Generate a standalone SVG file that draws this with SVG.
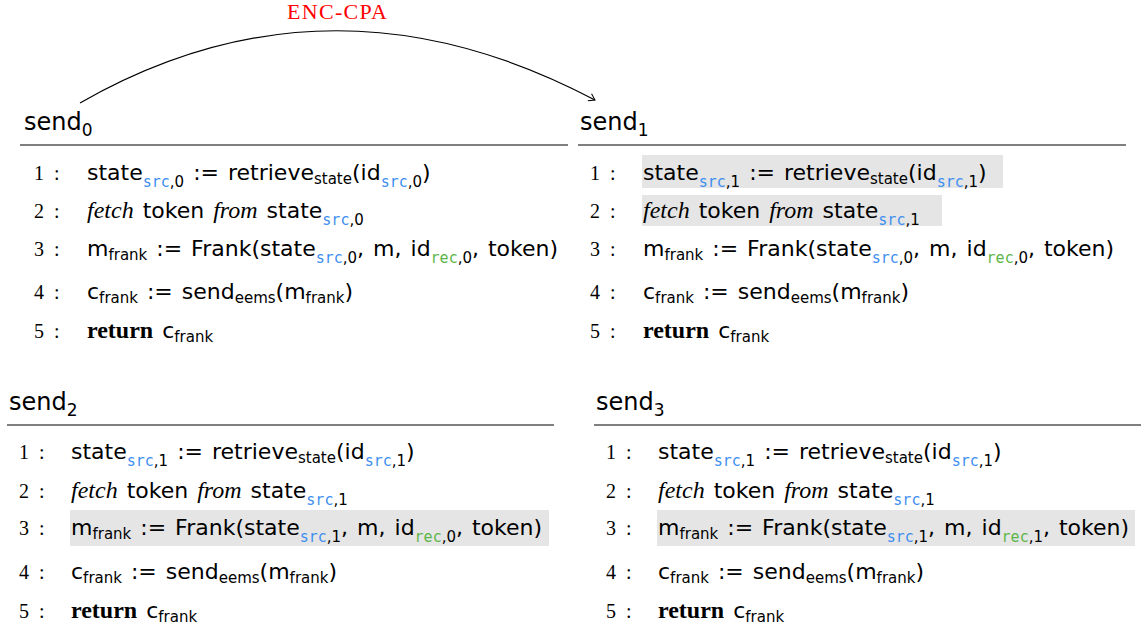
<svg xmlns="http://www.w3.org/2000/svg" width="1145" height="631" viewBox="0 0 1145 631">
<style>
.h{font-family:"DejaVu Sans",sans-serif;font-size:24px;fill:#000}
.hs{font-size:17px}
.t{font-family:"DejaVu Sans",sans-serif;font-size:22px;fill:#000;word-spacing:2px}
.s{font-size:15px}
.src{font-family:"DejaVu Sans Mono",monospace;font-size:15px;fill:#3d8ef0}
.rec{font-family:"DejaVu Sans Mono",monospace;font-size:15px;fill:#5cb548}
.n{font-family:"Liberation Serif",serif;font-size:20px;fill:#000;word-spacing:5px}
.i{font-family:"Liberation Serif",serif;font-style:italic;font-size:24px}
.b{font-family:"Liberation Serif",serif;font-weight:bold;font-size:24px}
.rule{stroke:#000;stroke-width:1.2}
.hl{fill:#e5e5e5}
.lbl{font-family:"Liberation Serif",serif;font-size:22px;fill:#ff0000}
</style>
<defs>
<marker id="arr" markerWidth="10" markerHeight="10" refX="8" refY="5" orient="auto" markerUnits="userSpaceOnUse">
<path d="M2 1 L8 5 L2 9" fill="none" stroke="#000" stroke-width="1"/>
</marker>
</defs>
<g id="connectors">
<path d="M80 103 Q330 -40 595 100" fill="none" stroke="#000" stroke-width="1.2" marker-end="url(#arr)"/>
<text class="lbl" x="337" y="19" text-anchor="middle" textLength="100" lengthAdjust="spacing">ENC-CPA</text>
</g>
<g id="send0">
<text class="h" x="24" y="130">send<tspan class="hs" dy="6">0</tspan></text>
<line class="rule" x1="20" y1="145" x2="568" y2="145"/>
<text class="n" x="34" y="180">1 :</text>
<text class="t" x="87" y="180">state<tspan class="src" dy="7">src</tspan><tspan class="s">,0</tspan><tspan dy="-7"> := retrieve</tspan><tspan class="s" dy="4">state</tspan><tspan dy="-4">(id</tspan><tspan class="src" dy="7">src</tspan><tspan class="s">,0</tspan><tspan dy="-7">)</tspan></text>
<text class="n" x="34" y="218">2 :</text>
<text class="t" x="87" y="218"><tspan class="i">fetch</tspan> token <tspan class="i">from</tspan> state<tspan class="src" dy="7">src</tspan><tspan class="s">,0</tspan></text>
<text class="n" x="34" y="256">3 :</text>
<text class="t" x="87" y="256">m<tspan class="s" dy="4">frank</tspan><tspan dy="-4"> := Frank(state</tspan><tspan class="src" dy="7">src</tspan><tspan class="s">,0</tspan><tspan dy="-7">, m, id</tspan><tspan class="rec" dy="7">rec</tspan><tspan class="s">,0</tspan><tspan dy="-7">, token)</tspan></text>
<text class="n" x="34" y="299">4 :</text>
<text class="t" x="87" y="299">c<tspan class="s" dy="4">frank</tspan><tspan dy="-4"> := send</tspan><tspan class="s" dy="4">eems</tspan><tspan dy="-4">(m</tspan><tspan class="s" dy="4">frank</tspan><tspan dy="-4">)</tspan></text>
<text class="n" x="34" y="338">5 :</text>
<text class="t" x="87" y="338"><tspan class="b">return</tspan> c<tspan class="s" dy="4">frank</tspan></text>
</g>
<g id="send1">
<rect class="hl" x="642" y="155" width="361" height="33"/>
<rect class="hl" x="642" y="195" width="300" height="31"/>
<text class="h" x="580" y="130">send<tspan class="hs" dy="6">1</tspan></text>
<line class="rule" x1="578" y1="145" x2="1126" y2="145"/>
<text class="n" x="590" y="180">1 :</text>
<text class="t" x="643" y="180">state<tspan class="src" dy="7">src</tspan><tspan class="s">,1</tspan><tspan dy="-7"> := retrieve</tspan><tspan class="s" dy="4">state</tspan><tspan dy="-4">(id</tspan><tspan class="src" dy="7">src</tspan><tspan class="s">,1</tspan><tspan dy="-7">)</tspan></text>
<text class="n" x="590" y="218">2 :</text>
<text class="t" x="643" y="218"><tspan class="i">fetch</tspan> token <tspan class="i">from</tspan> state<tspan class="src" dy="7">src</tspan><tspan class="s">,1</tspan></text>
<text class="n" x="590" y="256">3 :</text>
<text class="t" x="643" y="256">m<tspan class="s" dy="4">frank</tspan><tspan dy="-4"> := Frank(state</tspan><tspan class="src" dy="7">src</tspan><tspan class="s">,0</tspan><tspan dy="-7">, m, id</tspan><tspan class="rec" dy="7">rec</tspan><tspan class="s">,0</tspan><tspan dy="-7">, token)</tspan></text>
<text class="n" x="590" y="299">4 :</text>
<text class="t" x="643" y="299">c<tspan class="s" dy="4">frank</tspan><tspan dy="-4"> := send</tspan><tspan class="s" dy="4">eems</tspan><tspan dy="-4">(m</tspan><tspan class="s" dy="4">frank</tspan><tspan dy="-4">)</tspan></text>
<text class="n" x="590" y="338">5 :</text>
<text class="t" x="643" y="338"><tspan class="b">return</tspan> c<tspan class="s" dy="4">frank</tspan></text>
</g>
<g id="send2">
<rect class="hl" x="70" y="510" width="479" height="36"/>
<text class="h" x="9" y="410">send<tspan class="hs" dy="6">2</tspan></text>
<line class="rule" x1="7" y1="425" x2="554" y2="425"/>
<text class="n" x="19" y="459">1 :</text>
<text class="t" x="71" y="459">state<tspan class="src" dy="7">src</tspan><tspan class="s">,1</tspan><tspan dy="-7"> := retrieve</tspan><tspan class="s" dy="4">state</tspan><tspan dy="-4">(id</tspan><tspan class="src" dy="7">src</tspan><tspan class="s">,1</tspan><tspan dy="-7">)</tspan></text>
<text class="n" x="19" y="498">2 :</text>
<text class="t" x="71" y="498"><tspan class="i">fetch</tspan> token <tspan class="i">from</tspan> state<tspan class="src" dy="7">src</tspan><tspan class="s">,1</tspan></text>
<text class="n" x="19" y="535">3 :</text>
<text class="t" x="71" y="535">m<tspan class="s" dy="4">frank</tspan><tspan dy="-4"> := Frank(state</tspan><tspan class="src" dy="7">src</tspan><tspan class="s">,1</tspan><tspan dy="-7">, m, id</tspan><tspan class="rec" dy="7">rec</tspan><tspan class="s">,0</tspan><tspan dy="-7">, token)</tspan></text>
<text class="n" x="19" y="579">4 :</text>
<text class="t" x="71" y="579">c<tspan class="s" dy="4">frank</tspan><tspan dy="-4"> := send</tspan><tspan class="s" dy="4">eems</tspan><tspan dy="-4">(m</tspan><tspan class="s" dy="4">frank</tspan><tspan dy="-4">)</tspan></text>
<text class="n" x="19" y="618">5 :</text>
<text class="t" x="71" y="618"><tspan class="b">return</tspan> c<tspan class="s" dy="4">frank</tspan></text>
</g>
<g id="send3">
<rect class="hl" x="657" y="510" width="478" height="36"/>
<text class="h" x="596" y="410">send<tspan class="hs" dy="6">3</tspan></text>
<line class="rule" x1="594" y1="425" x2="1141" y2="425"/>
<text class="n" x="606" y="459">1 :</text>
<text class="t" x="658" y="459">state<tspan class="src" dy="7">src</tspan><tspan class="s">,1</tspan><tspan dy="-7"> := retrieve</tspan><tspan class="s" dy="4">state</tspan><tspan dy="-4">(id</tspan><tspan class="src" dy="7">src</tspan><tspan class="s">,1</tspan><tspan dy="-7">)</tspan></text>
<text class="n" x="606" y="498">2 :</text>
<text class="t" x="658" y="498"><tspan class="i">fetch</tspan> token <tspan class="i">from</tspan> state<tspan class="src" dy="7">src</tspan><tspan class="s">,1</tspan></text>
<text class="n" x="606" y="535">3 :</text>
<text class="t" x="658" y="535">m<tspan class="s" dy="4">frank</tspan><tspan dy="-4"> := Frank(state</tspan><tspan class="src" dy="7">src</tspan><tspan class="s">,1</tspan><tspan dy="-7">, m, id</tspan><tspan class="rec" dy="7">rec</tspan><tspan class="s">,1</tspan><tspan dy="-7">, token)</tspan></text>
<text class="n" x="606" y="579">4 :</text>
<text class="t" x="658" y="579">c<tspan class="s" dy="4">frank</tspan><tspan dy="-4"> := send</tspan><tspan class="s" dy="4">eems</tspan><tspan dy="-4">(m</tspan><tspan class="s" dy="4">frank</tspan><tspan dy="-4">)</tspan></text>
<text class="n" x="606" y="618">5 :</text>
<text class="t" x="658" y="618"><tspan class="b">return</tspan> c<tspan class="s" dy="4">frank</tspan></text>
</g>
</svg>
